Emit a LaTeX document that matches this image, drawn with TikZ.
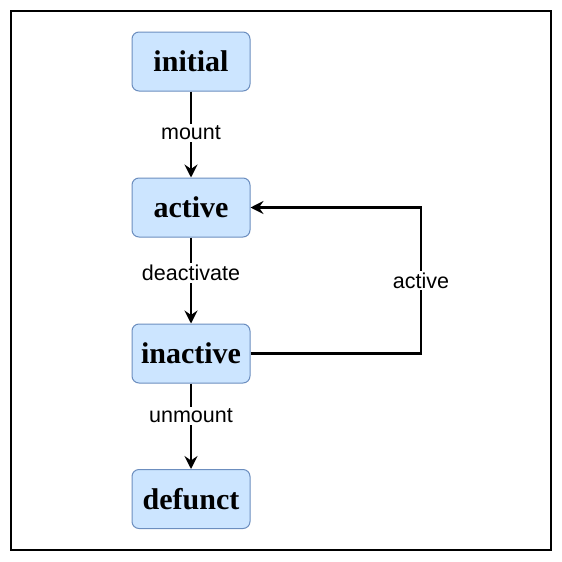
\documentclass[tikz,border=0pt]{standalone}
\usepackage{fontspec}
\setmainfont{Liberation Serif}
\newfontfamily\labelfont{Liberation Sans}
\usetikzlibrary{arrows.meta}
\definecolor{nodefill}{HTML}{CCE5FF}
\definecolor{nodedraw}{HTML}{6C8EBF}
\begin{document}
\begin{tikzpicture}[x=1pt,y=-1pt,
  state/.style={draw=nodedraw,fill=nodefill,rounded corners=7pt,minimum width=118pt,minimum height=59pt,line width=1pt,inner sep=0pt,font=\fontsize{30}{33}\selectfont\bfseries},
  conn/.style={line width=2.3pt,-{Stealth[length=13pt,width=13pt,inset=4.5pt]}},
  lbl/.style={fill=white,inner sep=2pt,font=\labelfont\fontsize{21.5}{24}\selectfont}]
\useasboundingbox (0,0) rectangle (562,562);
\draw[line width=1.8pt] (11,11) rectangle (551,550);
\node[state] (initial) at (191,61.5) {initial};
\node[state] (active) at (191,207.5) {active};
\node[state] (inactive) at (191,353.5) {inactive};
\node[state] (defunct) at (191,499) {defunct};
\draw[conn] (initial) -- node[lbl,pos=0.48] {mount} (active);
\draw[conn] (active) -- node[lbl,pos=0.41] {deactivate} (inactive);
\draw[conn] (inactive) -- node[lbl,pos=0.38] {unmount} (defunct);
\coordinate (c1) at (421,353.5);
\coordinate (c2) at (421,207.5);
\draw[conn] (inactive.east) -- (c1) -- node[lbl] {active} (c2) -- (active.east);
\end{tikzpicture}
\end{document}
